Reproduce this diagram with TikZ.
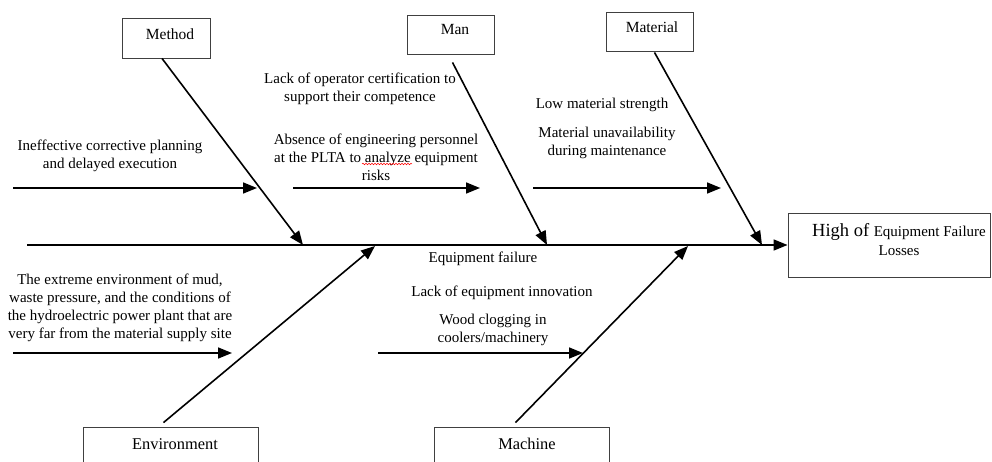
\documentclass[tikz,border=0pt]{standalone}
\usepackage{fontspec}
\setmainfont{Liberation Serif}
\usetikzlibrary{arrows.meta,calc,decorations.pathmorphing}
\begin{document}
\begin{tikzpicture}[x=1pt,y=-1pt,
 bone/.style={line width=1.6pt,-{Triangle[length=14pt,width=11pt]}},
 catbox/.style={draw=black!75,line width=0.9pt,rectangle,inner sep=0pt},
 lbl/.style={font=\fontsize{15}{18}\selectfont,align=center,inner sep=0pt},
 catlbl/.style={font=\fontsize{15.5}{17}\selectfont,inner sep=0pt},
 botlbl/.style={font=\fontsize{16.4}{18}\selectfont,inner sep=0pt},
]
\useasboundingbox (0,0) rectangle (992,462);
\clip (0,0) rectangle (992,462);

% category boxes
\node[catbox,minimum width=88pt,minimum height=40pt] (method) at (166,38) {};
\node[catlbl] (methodT) at (170,34) {Method};
\node[catbox,minimum width=87pt,minimum height=39pt] (man) at (450.5,34.5) {};
\node[catlbl] (manT) at (455,30) {Man};
\node[catbox,minimum width=87pt,minimum height=39pt] (material) at (649.5,31.5) {};
\node[catlbl] (materialT) at (652,27) {Material};
\node[catbox,minimum width=175pt,minimum height=45pt] (env) at (170.5,449.5) {};
\node[botlbl] (envT) at (175,444) {Environment};
\node[catbox,minimum width=175pt,minimum height=45pt] (machine) at (521.5,449.5) {};
\node[botlbl] (machineT) at (527,444) {Machine};

% effect box
\node[catbox,minimum width=202pt,minimum height=64pt] (effect) at (889,245) {};
\node[inner sep=0pt,align=center,font=\fontsize{15}{19}\selectfont] (effectT) at (899,240)
  {{\fontsize{18.5}{19}\selectfont High of }Equipment Failure\\Losses};

% spine
\coordinate (spineTail) at (27,245);
\coordinate (tipMethod) at (303,245);
\coordinate (tipMan) at (547,245);
\coordinate (tipMaterial) at (762,245);
\coordinate (tipEnv) at (375,246);
\coordinate (tipMachine) at (688,246);
\draw[bone] (spineTail) -- (effect.west);

% main bones
\draw[bone] ($(method.south)+(-4,0)$) -- (tipMethod);
\draw[bone] ($(man.south)+(2,8)$) -- (tipMan);
\draw[bone] ($(material.south)+(5,1)$) -- (tipMaterial);
\draw[bone] ($(env.north)+(-7,-4)$) -- (tipEnv);
\draw[bone] ($(machine.north)+(-6,-4)$) -- (tipMachine);

% sub-cause arrows
\coordinate (a1s) at (13,188);   \coordinate (a1e) at (257,188);
\coordinate (a2s) at (293,188);  \coordinate (a2e) at (480,188);
\coordinate (a3s) at (533,188);  \coordinate (a3e) at (721,188);
\coordinate (a4s) at (13,353);   \coordinate (a4e) at (232,353);
\coordinate (a5s) at (378,353);  \coordinate (a5e) at (583,353);
\draw[bone] (a1s) -- (a1e);
\draw[bone] (a2s) -- (a2e);
\draw[bone] (a3s) -- (a3e);
\draw[bone] (a4s) -- (a4e);
\draw[bone] (a5s) -- (a5e);

% cause texts
\node[lbl] (t1) at (110,156) {Ineffective corrective planning\\and delayed execution};
\node[lbl] (t2) at (360,89) {Lack of operator certification to\\support their competence};
\node[lbl] (t3) at (376,157) {Absence of engineering personnel\\at the PLTA to analyze equipment\\risks};
\node[lbl] (t4) at (602,105) {Low material strength};
\node[lbl] (t5) at (607,143) {Material unavailability\\during maintenance};
\node[lbl] (t6) at (120,308) {The extreme environment of mud,\\waste pressure, and the conditions of\\the hydroelectric power plant that are\\very far from the material supply site};
\node[lbl] (t7) at (483,259) {Equipment failure};
\node[lbl] (t8) at (502,293) {Lack of equipment innovation};
\node[lbl] (t9) at (493,330) {Wood clogging in\\coolers/machinery};

% spell-check squiggle under "analyze"
\draw[red,line width=0.5pt,decorate,decoration={snake,amplitude=0.8pt,segment length=3pt}] (362,164) -- (412,164);
\end{tikzpicture}
\end{document}
